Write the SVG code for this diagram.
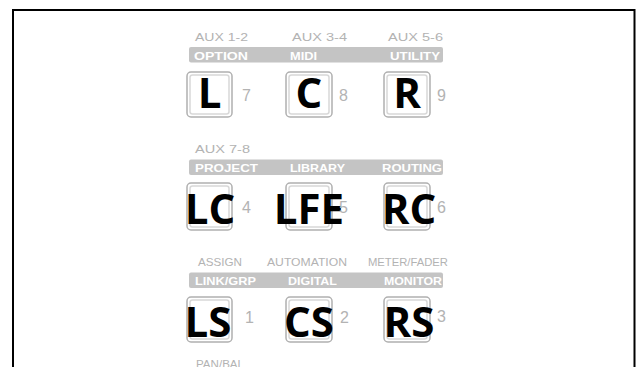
<svg xmlns="http://www.w3.org/2000/svg" width="637" height="367" viewBox="0 0 637 367">
<style>
.lbl{font-family:"Liberation Sans",Arial,sans-serif;font-size:11.5px;fill:#b3b3b3}
.bar{fill:#c4c4c4}
.bt{font-family:"Liberation Sans",Arial,sans-serif;font-size:11.5px;font-weight:bold;fill:#ffffff}
.key{font-family:"Open Sans",sans-serif;font-size:42px;font-weight:bold;fill:#000000;text-anchor:middle}
.num{font-family:"Liberation Sans",Arial,sans-serif;font-size:16px;fill:#b3b3b3}
.bo{fill:#ffffff;stroke:#b0b0b0;stroke-width:1.5}
.bi{fill:none;stroke:#d8d8d8;stroke-width:1.5}
</style>
<rect width="637" height="367" fill="#ffffff"/>
<path d="M13,367 V10 H634.5 V367" fill="none" stroke="#000000" stroke-width="2"/>

<g id="labels">
<text class="lbl" x="195" y="40.5" textLength="53" lengthAdjust="spacingAndGlyphs">AUX 1-2</text>
<text class="lbl" x="292" y="40.5" textLength="55" lengthAdjust="spacingAndGlyphs">AUX 3-4</text>
<text class="lbl" x="388" y="40.5" textLength="55" lengthAdjust="spacingAndGlyphs">AUX 5-6</text>
<text class="lbl" x="195" y="153" textLength="55" lengthAdjust="spacingAndGlyphs">AUX 7-8</text>
<text class="lbl" x="198" y="266" textLength="44" lengthAdjust="spacingAndGlyphs">ASSIGN</text>
<text class="lbl" x="267" y="266" textLength="80" lengthAdjust="spacingAndGlyphs">AUTOMATION</text>
<text class="lbl" x="368" y="266" textLength="80" lengthAdjust="spacingAndGlyphs">METER/FADER</text>
<text class="lbl" x="196" y="368" textLength="48" lengthAdjust="spacingAndGlyphs">PAN/BAL</text>
</g>

<g id="bar1">
<rect class="bar" x="189" y="47" width="254" height="15.5" rx="2"/>
<text class="bt" x="194" y="59.5" textLength="54" lengthAdjust="spacingAndGlyphs">OPTION</text>
<text class="bt" x="290" y="59.5" textLength="27" lengthAdjust="spacingAndGlyphs">MIDI</text>
<text class="bt" x="390" y="59.5" textLength="50" lengthAdjust="spacingAndGlyphs">UTILITY</text>
</g>
<g id="bar2">
<rect class="bar" x="189" y="159.5" width="254" height="15.5" rx="2"/>
<text class="bt" x="195" y="172" textLength="63" lengthAdjust="spacingAndGlyphs">PROJECT</text>
<text class="bt" x="290" y="172" textLength="55" lengthAdjust="spacingAndGlyphs">LIBRARY</text>
<text class="bt" x="382" y="172" textLength="60" lengthAdjust="spacingAndGlyphs">ROUTING</text>
</g>
<g id="bar3">
<rect class="bar" x="189" y="272.5" width="254" height="15.5" rx="2"/>
<text class="bt" x="195" y="284.8" textLength="61" lengthAdjust="spacingAndGlyphs">LINK/GRP</text>
<text class="bt" x="288" y="284.8" textLength="49" lengthAdjust="spacingAndGlyphs">DIGITAL</text>
<text class="bt" x="384" y="284.8" textLength="58" lengthAdjust="spacingAndGlyphs">MONITOR</text>
</g>

<g id="key-L"><rect class="bo" x="187" y="72" width="45" height="45" rx="4"/><rect class="bi" x="190" y="75" width="39" height="39" rx="2.5"/><text class="key" x="209.5" y="108">L</text><text class="num" x="242" y="101">7</text></g>
<g id="key-C"><rect class="bo" x="286" y="72" width="46" height="45" rx="4"/><rect class="bi" x="289" y="75" width="40" height="39" rx="2.5"/><text class="key" x="309" y="108">C</text><text class="num" x="339" y="101">8</text></g>
<g id="key-R"><rect class="bo" x="384" y="72" width="46" height="45" rx="4"/><rect class="bi" x="387" y="75" width="40" height="39" rx="2.5"/><text class="key" x="407" y="108">R</text><text class="num" x="437" y="101">9</text></g>

<g id="key-LC"><rect class="bo" x="187" y="183" width="45" height="47" rx="4"/><rect class="bi" x="190" y="186" width="39" height="41" rx="2.5"/><text class="key" x="210" y="224">LC</text><text class="num" x="242" y="213">4</text></g>
<g id="key-LFE"><rect class="bo" x="286" y="183" width="46" height="47" rx="4"/><rect class="bi" x="289" y="186" width="40" height="41" rx="2.5"/><text class="key" x="309" y="224">LFE</text><text class="num" x="339" y="213">5</text></g>
<g id="key-RC"><rect class="bo" x="384" y="183" width="46" height="47" rx="4"/><rect class="bi" x="387" y="186" width="40" height="41" rx="2.5"/><text class="key" x="409" y="224">RC</text><text class="num" x="437" y="213">6</text></g>

<g id="key-LS"><rect class="bo" x="187" y="297" width="45" height="45" rx="4"/><rect class="bi" x="190" y="300" width="39" height="39" rx="2.5"/><text class="key" x="208" y="337">LS</text><text class="num" x="245" y="323">1</text></g>
<g id="key-CS"><rect class="bo" x="286" y="297" width="46" height="45" rx="4"/><rect class="bi" x="289" y="300" width="40" height="39" rx="2.5"/><text class="key" x="309" y="337">CS</text><text class="num" x="340" y="323">2</text></g>
<g id="key-RS"><rect class="bo" x="384" y="297" width="46" height="45" rx="4"/><rect class="bi" x="387" y="300" width="40" height="39" rx="2.5"/><text class="key" x="409" y="337">RS</text><text class="num" x="437" y="322">3</text></g>

<g id="connectors"></g>
</svg>
